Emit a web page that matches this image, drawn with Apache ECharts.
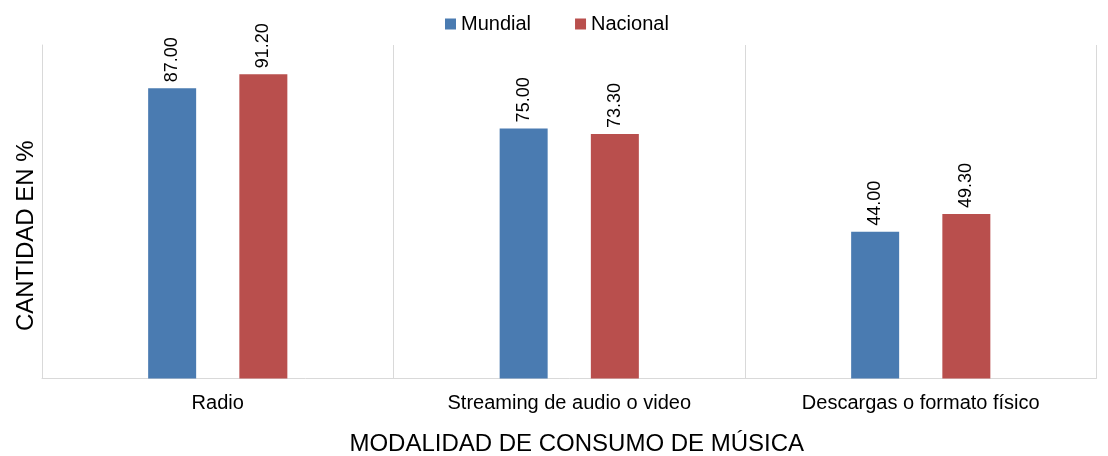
<!DOCTYPE html>
<html><head><meta charset="utf-8">
<script src="https://cdn.jsdelivr.net/npm/echarts@6/dist/echarts.min.js"></script>
<style>html,body{margin:0;padding:0;background:#fff}#c{width:1108px;height:456px}</style>
</head><body><div id="c"></div>
<script>
const categories = ['Radio', 'Streaming de audio o video', 'Descargas o formato físico'];
const mundial = [87.00, 75.00, 44.00];
const nacional = [91.20, 73.30, 49.30];
const seriesNames = ['Mundial', 'Nacional'];
const xAxisTitle = 'MODALIDAD DE CONSUMO DE MÚSICA';
const yAxisTitle = 'CANTIDAD EN %';

const FONT = '"Liberation Sans", Arial, sans-serif';
const chart = echarts.init(document.getElementById('c'));
const labelCfg = {
  show: true, position: 'top', rotate: 90, align: 'left', verticalAlign: 'middle',
  distance: 6, fontSize: 18, color: '#000', fontFamily: FONT,
  formatter: p => p.value.toFixed(2)
};
chart.setOption({
  animation: false,
  textStyle: { fontFamily: FONT },
  legend: {
    data: seriesNames, left: 440, top: 9, itemWidth: 11, itemHeight: 11, itemGap: 44,
    icon: 'rect', textStyle: { fontSize: 20, color: '#000', fontFamily: FONT }
  },
  grid: { left: 42, right: 11.5, top: 45, bottom: 77.5, containLabel: false, outerBoundsMode: 'none' },
  xAxis: {
    type: 'category', data: categories,
    name: xAxisTitle, nameLocation: 'middle', nameGap: 54,
    nameTextStyle: { fontSize: 24, color: '#000', fontFamily: FONT, padding: [0, 0, 0, 15] },
    axisLine: { show: true, lineStyle: { color: '#D9D9D9', width: 1 } },
    axisTick: { show: false },
    axisLabel: { fontSize: 20, color: '#000', margin: 15, fontFamily: FONT },
    splitLine: { show: true, lineStyle: { color: '#D9D9D9', width: 1 } }
  },
  yAxis: {
    type: 'value', min: 0, max: 100,
    name: yAxisTitle, nameLocation: 'middle', nameGap: 4,
    nameTextStyle: { fontSize: 24, color: '#000', fontFamily: FONT, padding: [0, 48, 0, 0] },
    axisLine: { show: true, lineStyle: { color: '#D9D9D9', width: 1 } },
    axisTick: { show: false },
    axisLabel: { show: false },
    splitLine: { show: false }
  },
  series: [
    { name: seriesNames[0], type: 'bar', data: mundial, barWidth: 48, barGap: '90%',
      itemStyle: { color: '#4A7BB1' }, label: labelCfg },
    { name: seriesNames[1], type: 'bar', data: nacional, barWidth: 48, barGap: '90%',
      itemStyle: { color: '#B94F4D' }, label: labelCfg }
  ]
});
</script></body></html>
